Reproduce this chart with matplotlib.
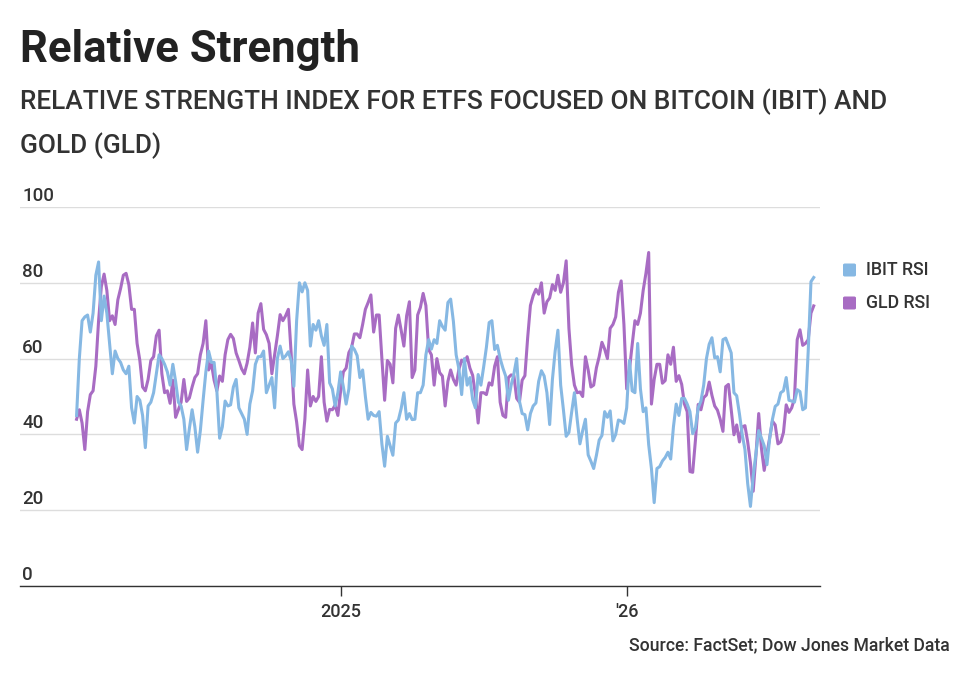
import matplotlib
matplotlib.use("Agg")
import matplotlib.pyplot as plt
import matplotlib.patches as mpatches
import pandas as pd

# RSI readings every 3.5 days
ibit_rsi = [
    45, 60, 70, 71, 71.5, 67, 72, 82, 85.5, 70, 76.5, 72, 64, 56, 62, 60,
    59, 57, 56, 58, 47, 43, 50, 49, 45, 36.5, 47.5, 48.5, 51, 56, 61, 60,
    58.5, 56.5, 53, 58.5, 54, 48.5, 47.5, 44, 36, 41.5, 46.5, 42, 35.3, 41, 49, 56.5,
    62, 59, 59, 51.5, 39, 42, 48.8, 47.5, 47.8, 52.5, 54.5, 47, 45.5, 44, 40, 48,
    51.5, 58.5, 60.5, 60.5, 62, 51, 53, 55, 47, 60, 63.3, 60, 60.7, 61.8, 59.5, 52.7,
    70, 80, 77.6, 80, 78, 63.3, 69, 67.5, 70, 66, 63.5, 69, 53.6, 52, 47.5, 51,
    56.5, 52.5, 48, 52, 63.3, 62.4, 60.8, 55, 57, 50, 44, 45.8, 45, 44.8, 46, 37.5,
    31.6, 39.5, 37, 34.5, 43, 43.8, 46.8, 51, 44, 45.5, 43.9, 44, 51, 51, 53, 61,
    65, 62.5, 65, 64, 70, 68.5, 67.5, 74.8, 75.7, 69.8, 61, 57.3, 50.5, 60, 53, 55,
    49.2, 47, 55.8, 53, 57.8, 63, 69.5, 70, 62.4, 63.5, 60, 57.5, 55.4, 49, 53, 56,
    60, 48.8, 45.5, 45.2, 41.2, 45.5, 47.5, 48.3, 54, 56.8, 55.4, 51, 42.6, 54.5, 62, 67.5,
    53, 46.5, 39.5, 40.5, 45.9, 51, 44, 37.5, 41, 44, 34.6, 32.9, 31, 34.5, 38.5, 39.7,
    46, 44.5, 46.2, 38.3, 40, 43.8, 43.5, 42.9, 47, 59.5, 51.5, 51, 64, 52, 46, 47,
    37.3, 31, 22, 31, 31.5, 33, 33.9, 35.3, 33.5, 42, 48, 45, 49.5, 49.5, 48, 46,
    40.2, 41.7, 47, 48.8, 53, 60, 63.8, 65.5, 60.2, 60.5, 56.5, 65, 65.4, 63.5, 61.5, 51,
    50.2, 45.4, 40, 36, 27, 21, 29, 35, 41, 39, 37, 32, 39.1, 44, 47.4, 48,
    51, 51.5, 55, 49, 48.8, 48.5, 51.8, 51.3, 46.5, 47, 62, 80.3, 81.4,
]
gld_rsi = [
    44, 46.5, 43, 36, 46, 50.5, 51.5, 58, 70, 79, 82.3, 78, 70, 71.3, 69, 75.5,
    78.5, 82, 82.5, 79.5, 73, 73, 64, 59.5, 52.5, 51.5, 54.5, 59.5, 60.5, 66, 67.5, 56,
    51, 51.5, 48.2, 54.3, 44.5, 46.5, 48.5, 54.5, 48.7, 49.6, 52.5, 55, 56, 61, 64, 70,
    57, 58.8, 54.3, 51.5, 55.4, 54, 61, 65, 66.4, 65.3, 61.5, 59.5, 57.3, 56, 58.8, 63,
    69.4, 61.5, 72, 74.5, 67.7, 66.3, 64, 56, 61, 66, 71.6, 70, 71.3, 73, 61.5, 48,
    43.3, 37, 36, 44, 57, 47.5, 50, 48.7, 50, 60.5, 48.5, 43.5, 46.6, 46.5, 47.7, 45,
    51.5, 56.5, 57.5, 61.6, 63, 66.5, 66.5, 65.5, 69, 73, 74.8, 76.8, 67, 71.5, 71.5, 60,
    49, 59.5, 58.5, 53.6, 68, 71.5, 67.5, 63.3, 71.3, 75, 55, 57, 71.5, 73.5, 77.2, 74,
    62.4, 61, 53, 60, 56.3, 55.4, 47.5, 54, 57, 54.5, 53, 57.2, 59.6, 59, 60.5, 57.5,
    55.6, 50.5, 43, 51, 51, 50.5, 53.6, 53, 58, 60.5, 48.5, 45, 44.5, 55, 55.7, 55.5,
    49.5, 48.5, 54.3, 55.5, 65.5, 74, 76.6, 78.3, 77, 80, 72, 75, 76, 79.5, 78, 82,
    77.5, 80, 85.8, 68, 58.3, 53, 51, 51.2, 50, 60.5, 57, 52.5, 53, 57.6, 60.5, 64.3,
    62.5, 60, 68, 69, 71, 77.5, 80.5, 69, 52, 57, 63.7, 70, 69, 72, 78, 82.5,
    88, 48, 54.5, 58.5, 58.5, 53.5, 54.2, 61, 58.5, 63, 54, 55.5, 53.2, 48, 46, 30.2,
    30, 38.5, 47.9, 46.5, 49.7, 50.4, 53.8, 50.3, 47.5, 46.4, 44, 40.8, 52.6, 53.2, 46.5, 39.9,
    42.5, 38, 42, 42.3, 38, 32.5, 25, 34.5, 45.5, 36.3, 30.5, 35, 39.1, 43.5, 42.5, 37.5,
    38, 40.5, 47.8, 45.8, 47, 49.5, 65, 67.6, 63.5, 64, 65, 72, 73.9,
]
dates = pd.date_range("2024-01-31", periods=len(ibit_rsi), freq="84h")

series_names = ["IBIT RSI", "GLD RSI"]
series_colors = ["#86b8e3", "#a86cc3"]
y_ticks = [0, 20, 40, 60, 80, 100]
x_ticks = [pd.Timestamp("2025-01-01"), pd.Timestamp("2026-01-01")]
x_tick_labels = ["2025", "'26"]

plt.rcParams["font.family"] = ["Roboto", "DejaVu Sans"]
text_color = "#333333"

fig = plt.figure(figsize=(9.71, 6.93), dpi=100)
ax = fig.add_axes([20 / 971, 107 / 693, 800 / 971, 379 / 693])

ax.plot(dates, ibit_rsi, color=series_colors[0], lw=2.2, solid_joinstyle="round", zorder=3)
ax.plot(dates, gld_rsi, color=series_colors[1], lw=2.2, solid_joinstyle="round", zorder=2)

ax.set_ylim(0, 100)
ax.set_xlim(dates[0] - pd.Timedelta(days=72), dates[-1] + pd.Timedelta(days=8))

for s in ["top", "right", "left"]:
    ax.spines[s].set_visible(False)
ax.spines["bottom"].set_color(text_color)
ax.spines["bottom"].set_linewidth(1.0)

ax.set_yticks(y_ticks)
ax.yaxis.grid(True, color="#dddddd", lw=1.0)
ax.set_axisbelow(True)
ax.tick_params(axis="y", length=0, labelleft=False)
for v in y_ticks:
    ax.annotate(str(v), xy=(0, v), xycoords=("axes fraction", "data"),
                xytext=(1.5, 1.5), textcoords="offset points", ha="left", va="bottom",
                fontsize=13.5, fontweight="medium", color=text_color)

ax.set_xticks(x_ticks)
ax.set_xticklabels(x_tick_labels, fontsize=13, color=text_color, fontweight="medium")
ax.tick_params(axis="x", length=7, width=1, color=text_color, pad=5)

# legend
for i, (name, col) in enumerate(zip(series_names, series_colors)):
    yy = 1 - (270 + i * 33) / 693
    fig.patches.append(mpatches.FancyBboxPatch(
        (843 / 971, yy - 6.5 / 693), 13 / 971, 13 / 693,
        boxstyle="round,pad=0,rounding_size=0.002",
        transform=fig.transFigure, facecolor=col, edgecolor="none"))
    fig.text(866 / 971, yy, name, fontsize=12.8, fontweight="medium", color=text_color,
             va="center", ha="left")

fig.text(20 / 971, 1 - 50 / 693, "Relative Strength", fontsize=31.5, fontweight="bold",
         color="#222222", va="center", ha="left")
fig.text(20 / 971, 1 - 102 / 693, "RELATIVE STRENGTH INDEX FOR ETFS FOCUSED ON BITCOIN (IBIT) AND",
         fontsize=18.9, fontweight="medium", color=text_color, va="center", ha="left")
fig.text(20 / 971, 1 - 146 / 693, "GOLD (GLD)", fontsize=18.9, fontweight="medium",
         color=text_color, va="center", ha="left")
fig.text(950 / 971, 1 - 645 / 693, "Source: FactSet; Dow Jones Market Data", fontsize=12.7,
         fontweight="medium", color=text_color, va="center", ha="right")

fig.savefig("out.png", dpi=100, facecolor="white")
